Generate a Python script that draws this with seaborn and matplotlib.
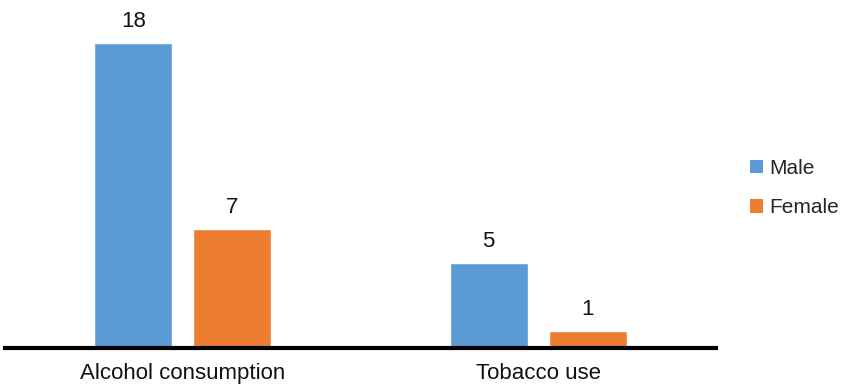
import matplotlib
matplotlib.use("Agg")
import matplotlib.pyplot as plt
from matplotlib.patches import Patch
import seaborn as sns
import pandas as pd

categories = ["Alcohol consumption", "Tobacco use"]
groups = ["Male", "Female"]
male_values = [18, 5]
female_values = [7, 1]
colors = ["#5B9BD5", "#ED7D31"]

df = pd.DataFrame({
    "Category": categories * 2,
    "Sex": [groups[0]] * len(categories) + [groups[1]] * len(categories),
    "Value": male_values + female_values,
})

sns.set_theme(style="white")
plt.rcParams["font.family"] = ["Liberation Sans", "DejaVu Sans"]

fig = plt.figure(figsize=(8.53, 3.88), dpi=100)
W, H = 853, 388
ax = fig.add_axes([5 / W, (H - 348) / H, (716 - 5) / W, (348 - 9) / H])

sns.barplot(data=df, x="Category", y="Value", hue="Sex", hue_order=groups,
            palette=colors, width=0.557, gap=0.21, saturation=1,
            ax=ax, legend=False, errorbar=None)

for container in ax.containers:
    ax.bar_label(container, fmt="%d", padding=8, fontsize=16, color="#111111")

ax.set_ylim(0, 20)
ax.set_xlim(-0.5, 1.5)
ax.set_xlabel("")
ax.set_ylabel("")
ax.set_yticks([])
ax.tick_params(axis="x", length=0, pad=11, labelsize=16, colors="#111111")
for side in ["top", "right", "left"]:
    ax.spines[side].set_visible(False)
ax.spines["bottom"].set_linewidth(3)
ax.spines["bottom"].set_color("black")

handles = [Patch(facecolor=c, edgecolor="none") for c in colors]
fig.legend(handles, groups, loc="center left", bbox_to_anchor=(742 / W, 1 - 188 / H),
           frameon=False, fontsize=15, handlelength=0.6, handleheight=0.6,
           handletextpad=0.3, labelspacing=1.0, borderaxespad=0)

fig.savefig("out.png", dpi=100)
